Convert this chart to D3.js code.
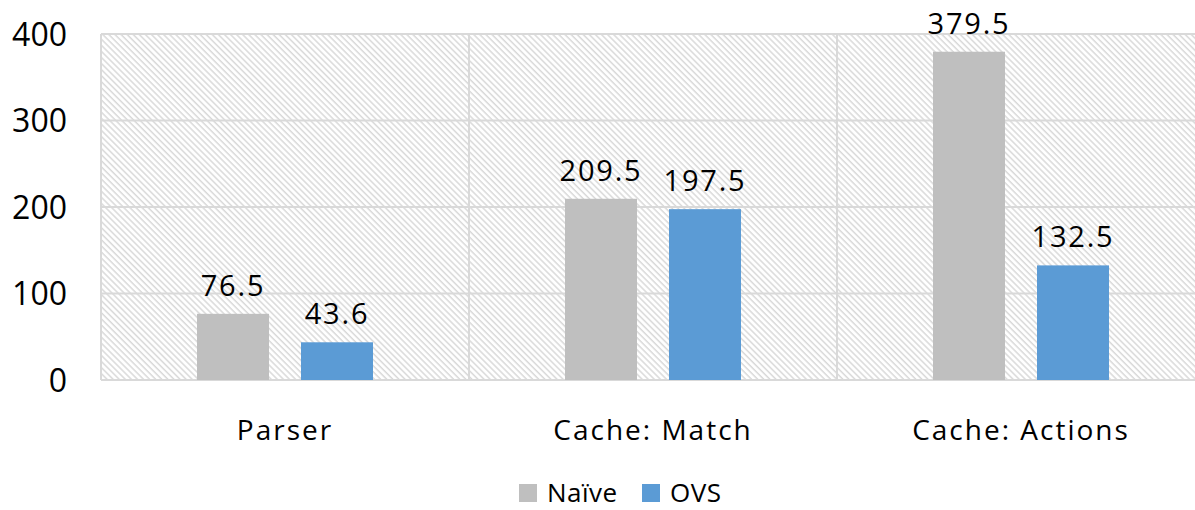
<!DOCTYPE html>
<html>
<head>
<meta charset="utf-8">
<script src="https://cdn.jsdelivr.net/npm/d3@7"></script>
<style>
  body { margin: 0; background: #fff; }
  text { font-family: "Open Sans", Lato, sans-serif; fill: #000; }
</style>
</head>
<body>
<script>
const categories = ['Parser', 'Cache: Match', 'Cache: Actions']
const seriesNames = ['Naïve', 'OVS']
const naive = [76.5, 209.5, 379.5]
const ovs = [43.6, 197.5, 132.5]
const yTicks = [0, 100, 200, 300, 400]
const colors = ['#bfbfbf', '#5b9bd5']

const width = 1195
const height = 510
const plot = { left: 101, right: 1205, top: 34, bottom: 380 }

const svg = d3.select('body').append('svg')
  .attr('width', width).attr('height', height)

// light diagonal hatch like the office "wide downward diagonal" fill
const defs = svg.append('defs')
const pat = defs.append('pattern')
  .attr('id', 'hatch')
  .attr('patternUnits', 'userSpaceOnUse')
  .attr('width', 4.3).attr('height', 4.3)
  .attr('patternTransform', 'rotate(-45)')
pat.append('rect').attr('width', 4.3).attr('height', 4.3).attr('fill', '#fff')
pat.append('line').attr('x1', 1).attr('y1', 0).attr('x2', 1).attr('y2', 4.3)
  .attr('stroke', '#d9d9d9').attr('stroke-width', 1.5)

const x = d3.scaleBand().domain(categories).range([plot.left, plot.right])
const xs = d3.scaleBand().domain(seriesNames).range([0, x.bandwidth()])
  .paddingInner(0.3077).paddingOuter(0.923)
const y = d3.scaleLinear().domain([0, 400]).range([plot.bottom, plot.top])

svg.append('rect')
  .attr('x', plot.left).attr('y', plot.top)
  .attr('width', plot.right - plot.left).attr('height', plot.bottom - plot.top)
  .attr('fill', 'url(#hatch)')

// gridlines
svg.append('g').selectAll('line').data(yTicks).join('line')
  .attr('x1', plot.left).attr('x2', plot.right)
  .attr('y1', d => y(d)).attr('y2', d => y(d))
  .attr('stroke', '#d9d9d9').attr('stroke-width', 2)

svg.append('g').selectAll('line').data(categories).join('line')
  .attr('x1', d => x(d)).attr('x2', d => x(d))
  .attr('y1', plot.top).attr('y2', plot.bottom)
  .attr('stroke', '#d9d9d9').attr('stroke-width', 2)

// y tick labels
svg.append('g').selectAll('text').data(yTicks).join('text')
  .attr('x', 67).attr('y', d => y(d))
  .attr('dy', '0.36em')
  .attr('text-anchor', 'end')
  .attr('font-size', 32)
  .text(d => d)

// bars
const rows = categories.map((c, i) => ({ cat: c, vals: [naive[i], ovs[i]] }))
const groups = svg.append('g').selectAll('g').data(rows).join('g')
  .attr('transform', d => `translate(${x(d.cat)},0)`)

const barData = d => d.vals.map((v, j) => ({ name: seriesNames[j], v, j }))

groups.selectAll('rect').data(barData).join('rect')
  .attr('x', d => xs(d.name))
  .attr('width', xs.bandwidth())
  .attr('y', d => y(d.v))
  .attr('height', d => y(0) - y(d.v))
  .attr('fill', d => colors[d.j])

groups.selectAll('text').data(barData).join('text')
  .attr('x', d => xs(d.name) + xs.bandwidth() / 2)
  .attr('y', d => y(d.v) - 18)
  .attr('text-anchor', 'middle')
  .attr('font-size', 29)
  .attr('letter-spacing', 1.8)
  .text(d => d.v)

// category labels
svg.append('g').selectAll('text').data(categories).join('text')
  .attr('x', d => x(d) + x.bandwidth() / 2)
  .attr('y', 440)
  .attr('text-anchor', 'middle')
  .attr('font-size', 28)
  .attr('letter-spacing', 2)
  .text(d => d)

// legend
const legendX = [519, 642]
const legend = svg.append('g').selectAll('g').data(seriesNames).join('g')
  .attr('transform', (d, i) => `translate(${legendX[i]},484)`)
legend.append('rect').attr('width', 18).attr('height', 18)
  .attr('fill', (d, i) => colors[i])
legend.append('text').attr('x', 28).attr('y', 18)
  .attr('font-size', 26)
  .attr('letter-spacing', 0.5)
  .text(d => d)
</script>
</body>
</html>
